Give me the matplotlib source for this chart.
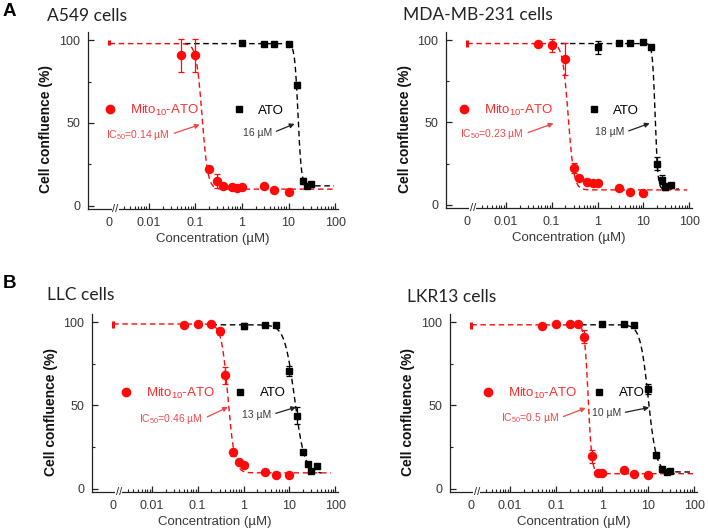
import numpy as np
import matplotlib
matplotlib.use('Agg')
import matplotlib.pyplot as plt
from matplotlib.lines import Line2D
from matplotlib.ticker import FixedLocator, NullFormatter
from matplotlib.transforms import blended_transform_factory

plt.rcParams['font.family'] = ['Liberation Sans', 'DejaVu Sans']
plt.rcParams['mathtext.default'] = 'regular'

# ---------------- data ----------------
panel_letters = ['A', 'B']
titles = ['A549 cells', 'MDA-MB-231 cells', 'LLC cells', 'LKR13 cells']
xtick_labels = ['0', '0.01', '0.1', '1', '10', '100']
series_names = ['Mito$_{10}$-ATO', 'ATO']
ic50_mito_labels = ['IC$_{50}$=0.14 µM', 'IC$_{50}$=0.23 µM', 'IC$_{50}$=0.46 µM', 'IC$_{50}$=0.5 µM']
ic50_ato_labels = ['16 µM', '18 µM', '13 µM', '10 µM']

# A549
a549_mito_x = [0, 0.05, 0.1, 0.2, 0.3, 0.4, 0.6, 0.8, 1, 3, 5, 10]
a549_mito_y = [98.5, 91, 91, 22, 15, 12, 11.5, 11, 11.5, 12, 9.5, 8]
a549_mito_err = [1.5, 10, 10, 1.5, 4, 1, 1, 1, 1, 1, 1, 1]
a549_ato_x = [1, 3, 5, 10, 15, 20, 25, 30]
a549_ato_y = [98.5, 98, 98, 98, 73, 15, 12, 13]
a549_ato_err = [1, 1, 1, 1, 2, 2, 1, 1]

# MDA-MB-231
mda_mito_x = [0, 0.05, 0.1, 0.2, 0.3, 0.4, 0.6, 0.8, 1, 3, 5, 10]
mda_mito_y = [98, 97.6, 97, 88.6, 22.3, 16.5, 14, 13.5, 13.1, 10, 8, 7.4]
mda_mito_err = [2, 1, 4, 10, 3, 1, 1.5, 1, 1, 1, 1, 1]
mda_ato_x = [1, 3, 5, 10, 15, 20, 25, 30, 40]
mda_ato_y = [95.6, 98.2, 98.6, 99, 95.6, 24.9, 15.3, 11, 12]
mda_ato_err = [4, 1, 1, 1, 1, 4, 3, 2, 1]

# LLC
llc_mito_x = [0, 0.05, 0.1, 0.2, 0.3, 0.4, 0.6, 0.8, 1, 3, 5, 10]
llc_mito_y = [98.6, 98.6, 99, 99, 94.6, 68.1, 21.8, 15.8, 14.4, 9.8, 8.4, 8.4]
llc_mito_err = [2, 1, 1, 1, 2, 5, 2, 1, 1, 1, 1, 1]
llc_ato_x = [1, 3, 5, 10, 15, 20, 25, 30, 40]
llc_ato_y = [97.8, 98.6, 98.6, 70.9, 43.9, 22, 14.8, 10.4, 13.8]
llc_ato_err = [2, 1, 1, 3, 5, 1, 1, 1, 1]

# LKR13
lkr_mito_x = [0, 0.05, 0.1, 0.2, 0.3, 0.4, 0.6, 0.8, 1, 3, 5, 10]
lkr_mito_y = [98, 98, 98.8, 98.8, 98.8, 91.4, 19.4, 9.4, 9.4, 11, 8.8, 8]
lkr_mito_err = [2, 1, 1, 1, 1, 4, 4, 1, 1, 1.5, 1, 1]
lkr_ato_x = [1, 3, 5, 10, 15, 20, 25, 30]
lkr_ato_y = [98.8, 98.8, 98.4, 60, 20, 11.8, 10, 10.8]
lkr_ato_err = [1, 1, 1, 3, 1.5, 1, 1, 1]

# dose-response fit parameters: (top, bottom, IC50, Hill slope)
mito_fits = [(98, 10, 0.14, 7), (98, 9, 0.23, 7), (99, 9.5, 0.46, 6), (98.5, 9, 0.5, 11)]
ato_fits = [(98, 12, 16, 12), (98, 9.5, 18, 15), (98.5, 9, 13, 4), (98.5, 10, 10, 5)]
# concentration range over which each fit curve is drawn
mito_fit_range = [(0, 90), (0, 90), (0, 80), (0, 95)]
ato_fit_range = [(0.06, 95), (0.1, 60), (0.2, 50), (0.35, 90)]

mito_sets = [(a549_mito_x, a549_mito_y, a549_mito_err), (mda_mito_x, mda_mito_y, mda_mito_err),
             (llc_mito_x, llc_mito_y, llc_mito_err), (lkr_mito_x, lkr_mito_y, lkr_mito_err)]
ato_sets = [(a549_ato_x, a549_ato_y, a549_ato_err), (mda_ato_x, mda_ato_y, mda_ato_err),
            (llc_ato_x, llc_ato_y, llc_ato_err), (lkr_ato_x, lkr_ato_y, lkr_ato_err)]

# ---------------- layout / style ----------------
RED = '#ff0a0a'
RED_TXT = '#ff2e2e'
RED_ANN = '#f04848'
GRAY_TXT = '#383838'
ZERO_POS = 10 ** -2.84          # where concentration 0 is drawn on the broken axis
BREAK_POS = 10 ** -2.72
XLIM = (10 ** -3.3, 10 ** 2.06)

axes_rects = [(0.1243, 0.6049, 0.353, 0.3346), (0.630, 0.6068, 0.3475, 0.3327),
              (0.130, 0.070, 0.3475, 0.3365), (0.6356, 0.070, 0.349, 0.3365)]
title_pos = [(47 / 708, 1 - 16 / 529), (403 / 708, 1 - 15 / 529),
             (47 / 708, 1 - 295 / 529), (407 / 708, 1 - 297 / 529)]
letter_pos = [(3 / 708, 1 - 11 / 529), (3 / 708, 1 - 283 / 529)]
legend_marker_log = [-2.82, -2.91, -2.57, -2.48]
legend_colspacing = [2.5, 2.6, 1.45, 1.2]
mito_ann_text = [(0.029, 43), (0.025, 43), (0.133, 42), (0.118, 42.4)]
mito_ann_target = [(0.125, 49), (0.11, 49.4), (0.46, 49), (0.44, 48.5)]
ato_ann_text = [(4.5, 44), (3.9, 44), (4.1, 44.5), (2.6, 45.4)]
ato_ann_target = [(13.5, 49.5), (13.7, 49.5), (14, 49), (10.5, 48.8)]


def logistic(x, top, bottom, ic50, hill):
    return bottom + (top - bottom) / (1 + (x / ic50) ** hill)


def to_plot_x(x):
    x = np.asarray(x, dtype=float)
    return np.where(x == 0, ZERO_POS, x)


fig = plt.figure(figsize=(7.08, 5.29), dpi=100)

minor_ticks = [m * 10.0 ** k for k in range(-3, 2) for m in range(2, 10) if m * 10.0 ** k >= 0.002]

for i in range(4):
    ax = fig.add_axes(axes_rects[i])
    ax.set_xscale('log')
    ax.set_xlim(XLIM)
    ax.set_ylim(-2, 105)
    for s in ['top', 'right']:
        ax.spines[s].set_visible(False)
    for s in ['left', 'bottom']:
        ax.spines[s].set_linewidth(0.9)
        ax.spines[s].set_color('#222222')

    # fit curves
    for fit, rng, col in [(ato_fits[i], ato_fit_range[i], 'black'),
                          (mito_fits[i], mito_fit_range[i], RED)]:
        lo = ZERO_POS if rng[0] == 0 else rng[0]
        xc = np.logspace(np.log10(lo), np.log10(rng[1]), 500)
        ax.plot(xc, logistic(xc, *fit), ls=(0, (4, 2.6)), color=col, lw=1.0, zorder=2)

    # ATO points
    ax_x, ax_y, ax_e = ato_sets[i]
    ax.errorbar(to_plot_x(ax_x), ax_y, yerr=ax_e, fmt='s', color='black', ms=5,
                capsize=2.3, elinewidth=0.9, capthick=0.9, zorder=3)
    # Mito10-ATO points
    mx, my, me = (np.asarray(a, dtype=float) for a in mito_sets[i])
    zero = mx == 0
    ax.errorbar(to_plot_x(mx[zero]), my[zero], yerr=me[zero], fmt='none', ecolor=RED,
                elinewidth=2.2, capsize=0, zorder=4)
    ax.errorbar(mx[~zero], my[~zero], yerr=me[~zero], fmt='o', color=RED, ms=5.8,
                capsize=2.3, elinewidth=0.9, capthick=0.9, zorder=4)

    # ticks
    ax.xaxis.set_major_locator(FixedLocator([ZERO_POS, 0.01, 0.1, 1, 10, 100]))
    ax.set_xticklabels(xtick_labels)
    ax.xaxis.set_minor_locator(FixedLocator(minor_ticks))
    ax.xaxis.set_minor_formatter(NullFormatter())
    ax.set_yticks([0, 50, 100])
    ax.set_yticks([25, 75], minor=True)
    ax.tick_params(which='major', direction='in', length=4, width=0.9, labelsize=9,
                   labelcolor=GRAY_TXT, pad=5.5, color='#222222')
    ax.tick_params(which='minor', direction='in', length=2.2, width=0.8, color='#222222')
    ax.xaxis.get_major_ticks()[0].tick1line.set_visible(False)

    # axis break mark
    trans = blended_transform_factory(ax.transData, ax.transAxes)
    ax.text(BREAK_POS, 0, '//', transform=trans, ha='center', va='center', fontsize=8,
            color='#222222', clip_on=False, zorder=5,
            bbox=dict(fc='white', ec='none', pad=0.2))

    ax.set_ylabel('Cell confluence (%)', fontsize=10, fontweight='bold', color='#111111')
    ax.yaxis.set_label_coords(-0.14, 0.45)
    ax.set_xlabel('Concentration (µM)', fontsize=9.5, color=GRAY_TXT)
    ax.xaxis.set_label_coords(0.5, -0.135)

    # legend
    h_red = Line2D([], [], marker='o', color=RED, ls='none', ms=6)
    h_blk = Line2D([], [], marker='s', color='black', ls='none', ms=5)
    ax.legend([h_red, h_blk], series_names, ncol=2, loc='center left',
              bbox_to_anchor=(10 ** (legend_marker_log[i] - 0.14), 57.5),
              bbox_transform=ax.transData, frameon=False, fontsize=9.5,
              handlelength=1.0, handletextpad=1.0, columnspacing=legend_colspacing[i],
              borderpad=0, borderaxespad=0, labelcolor=[RED_TXT, 'black'])

    # IC50 annotations
    ax.annotate(ic50_mito_labels[i], xy=mito_ann_target[i], xytext=mito_ann_text[i],
                ha='right', va='center', fontsize=7.5, color=RED_ANN,
                arrowprops=dict(arrowstyle='-|>', color=RED_ANN, lw=0.9, relpos=(1, 0.5),
                                shrinkA=1, shrinkB=0, mutation_scale=7))
    ax.annotate(ic50_ato_labels[i], xy=ato_ann_target[i], xytext=ato_ann_text[i],
                ha='right', va='center', fontsize=7.5, color=GRAY_TXT,
                arrowprops=dict(arrowstyle='-|>', color='#222222', lw=0.9, relpos=(1, 0.5),
                                shrinkA=1, shrinkB=0, mutation_scale=7))

    fig.text(*title_pos[i], titles[i], fontsize=12.5, family=['Lato', 'DejaVu Sans'],
             ha='left', va='center', color='#222222')

for j, letter in enumerate(panel_letters):
    fig.text(*letter_pos[j], letter, fontsize=13.5, fontweight='bold', ha='left',
             va='center', color='black')

fig.savefig('out.png', dpi=100)
